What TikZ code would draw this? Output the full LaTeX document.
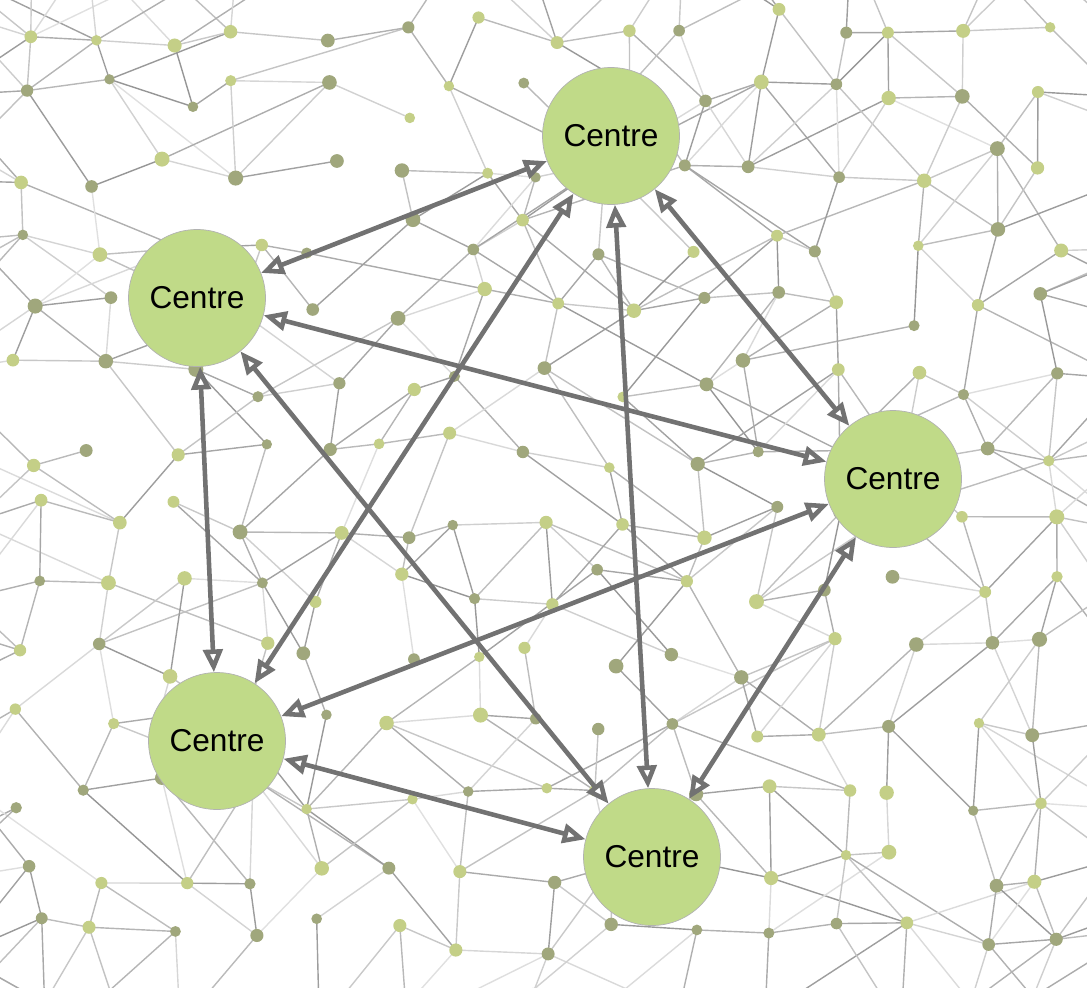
\documentclass[tikz,border=0pt]{standalone}
\usepackage{fontspec}
\setmainfont{Liberation Sans}
\usetikzlibrary{arrows.meta}
\definecolor{centregreen}{HTML}{C0DA88}
\definecolor{dotlight}{HTML}{C4CF87}
\definecolor{dotdark}{HTML}{A0A77C}
\definecolor{arrowgrey}{HTML}{727272}
\tikzset{
  centre/.style={shape=circle,fill=centregreen,draw=black!30,line width=0.4pt,minimum size=2.74cm,inner sep=0pt,font=\fontsize{18}{20}\selectfont},
  link/.style={draw=arrowgrey,line width=2.6pt,{Triangle[fill=white,length=13pt,width=11pt]}-{Triangle[fill=white,length=13pt,width=11pt]}},
  meshline/.style={draw=black!#1,line width=0.8pt}
}
% one random mesh edge: probability, from, to
\newcommand\meshedge[3]{%
  \pgfmathtruncatemacro\ok{rnd<#1}%
  \ifnum\ok=1 \pgfmathtruncatemacro\sh{12+30*rnd}\draw[meshline=\sh] (#2) -- (#3);\fi}
\begin{document}
\begin{tikzpicture}[x=0.02cm,y=-0.02cm]
\useasboundingbox (0,0) rectangle (1087,987);
\pgfmathsetseed{4242}
% background mesh points
\foreach \i in {-2,...,17} {
  \foreach \j in {-3,...,15} {
    \pgfmathsetmacro\px{30+73*\i+20*rand}
    \pgfmathsetmacro\py{28+70*\j+20*rand}
    \coordinate (m-\i-\j) at (\px,\py);
  }
}
\begin{scope}
\clip (0,0) rectangle (1087,987);
\foreach \i in {-2,...,15} {
  \foreach \j in {-2,...,14} {
    \pgfmathtruncatemacro\ii{\i+1}
    \pgfmathtruncatemacro\iii{\i+2}
    \pgfmathtruncatemacro\jj{\j+1}
    \pgfmathtruncatemacro\jk{\j-1}
    \meshedge{0.6}{m-\i-\j}{m-\ii-\j}
    \meshedge{0.6}{m-\i-\j}{m-\i-\jj}
    \meshedge{0.4}{m-\i-\j}{m-\ii-\jj}
    \meshedge{0.4}{m-\i-\j}{m-\ii-\jk}
    \meshedge{0.12}{m-\i-\j}{m-\iii-\jj}
    \meshedge{0.12}{m-\i-\j}{m-\iii-\jk}
  }
}
\end{scope}
% mesh dots
\foreach \i in {0,...,14} {
  \foreach \j in {0,...,13} {
    \pgfmathtruncatemacro\tone{rnd<0.55}
    \pgfmathsetmacro\rad{2.9+1.4*rnd}
    \ifnum\tone=1 \fill[dotlight] (m-\i-\j) circle[radius=\rad pt];
    \else \fill[dotdark] (m-\i-\j) circle[radius=\rad pt];\fi
  }
}
% centres
\node (c1) at (611,136) [centre] {Centre};
\node (c2) at (197,298) [centre] {Centre};
\node (c3) at (893,479) [centre] {Centre};
\node (c4) at (217,741) [centre] {Centre};
\node (c5) at (652,857) [centre] {Centre};
\draw[link] (c1) -- (c2);
\draw[link] (c1) -- (c3);
\draw[link] (c1) -- (c4);
\draw[link] (c1) -- (c5);
\draw[link] (c2) -- (c3);
\draw[link] (c2) -- (c4);
\draw[link] (c2) -- (c5);
\draw[link] (c3) -- (c4);
\draw[link] (c3) -- (c5);
\draw[link] (c4) -- (c5);
\end{tikzpicture}
\end{document}
